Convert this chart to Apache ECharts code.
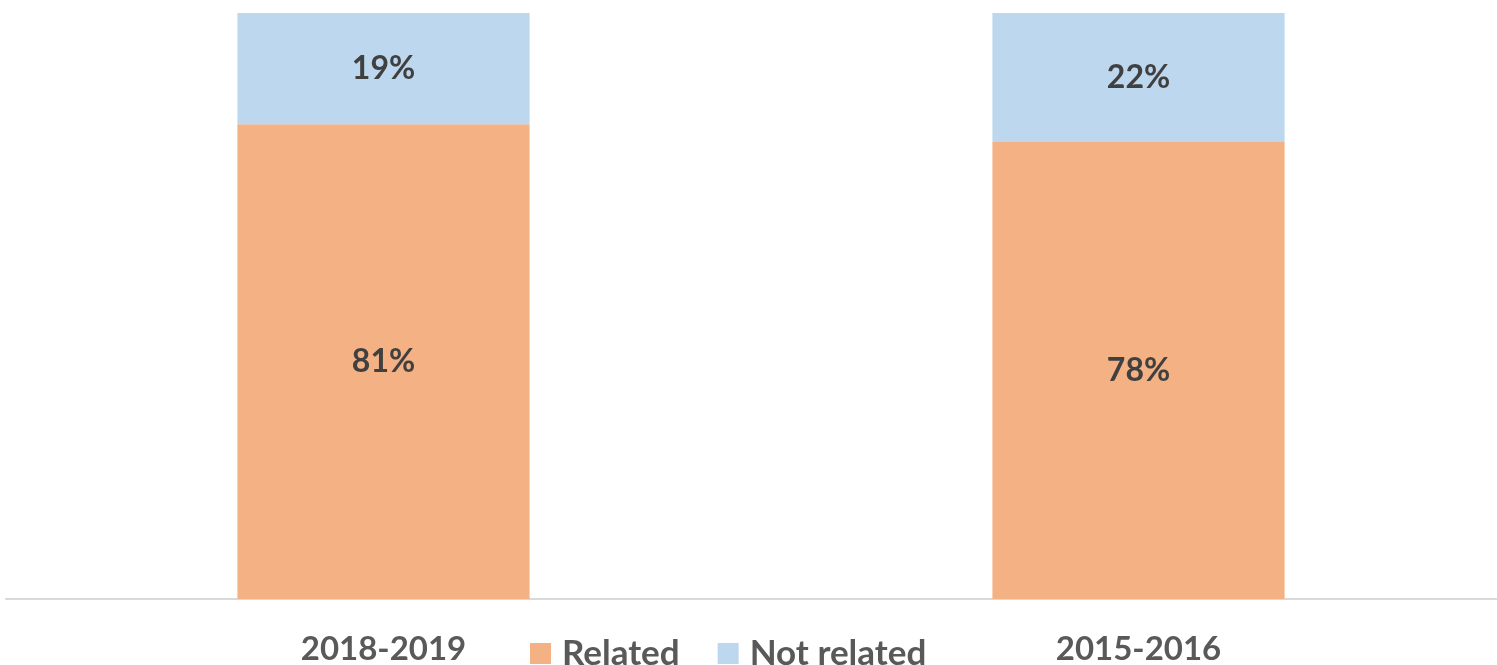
<!DOCTYPE html>
<html>
<head>
<meta charset="utf-8">
<script src="https://cdn.jsdelivr.net/npm/echarts@6/dist/echarts.min.js"></script>
<style>
  html, body { margin: 0; padding: 0; background: #ffffff; }
  #chart { width: 1497px; height: 665px; }
</style>
</head>
<body>
<div id="chart"></div>
<script>
// Share of responses per survey period
const periods = ['2018-2019', '2015-2016'];
const related = [81, 78];
const notRelated = [19, 22];

const FONT = 'Lato, "Open Sans", sans-serif';

const chart = echarts.init(document.getElementById('chart'));

const pctLabel = {
  show: true,
  position: 'inside',
  formatter: p => p.value + '%',
  color: '#404040',
  fontFamily: FONT,
  fontWeight: 'bold',
  fontSize: 32
};

chart.setOption({
  animation: false,
  // plot area runs past the right edge of the canvas
  grid: { left: 6, width: 1510, top: 13, bottom: 66, containLabel: false, outerBoundsMode: 'none' },
  legend: {
    left: 525,
    top: 631,
    itemWidth: 21,
    itemHeight: 21,
    itemGap: 38,
    icon: 'rect',
    textStyle: { color: '#595959', fontFamily: FONT, fontWeight: 'bold', fontSize: 35, padding: [0, 0, 0, 6] },
    data: ['Related', 'Not related']
  },
  xAxis: {
    type: 'category',
    data: periods,
    axisLine: { lineStyle: { color: '#d9d9d9', width: 2 } },
    axisTick: { show: false },
    axisLabel: { color: '#595959', fontFamily: FONT, fontWeight: 'bold', fontSize: 33, margin: 34 }
  },
  yAxis: {
    type: 'value',
    min: 0,
    max: 100,
    show: false,
    splitLine: { show: false }
  },
  series: [
    {
      name: 'Related',
      type: 'bar',
      stack: 'total',
      barWidth: '38.7%',
      data: related,
      itemStyle: { color: '#F4B183' },
      label: pctLabel
    },
    {
      name: 'Not related',
      type: 'bar',
      stack: 'total',
      data: notRelated,
      itemStyle: { color: '#BDD7EE' },
      label: pctLabel
    }
  ]
});
</script>
</body>
</html>
